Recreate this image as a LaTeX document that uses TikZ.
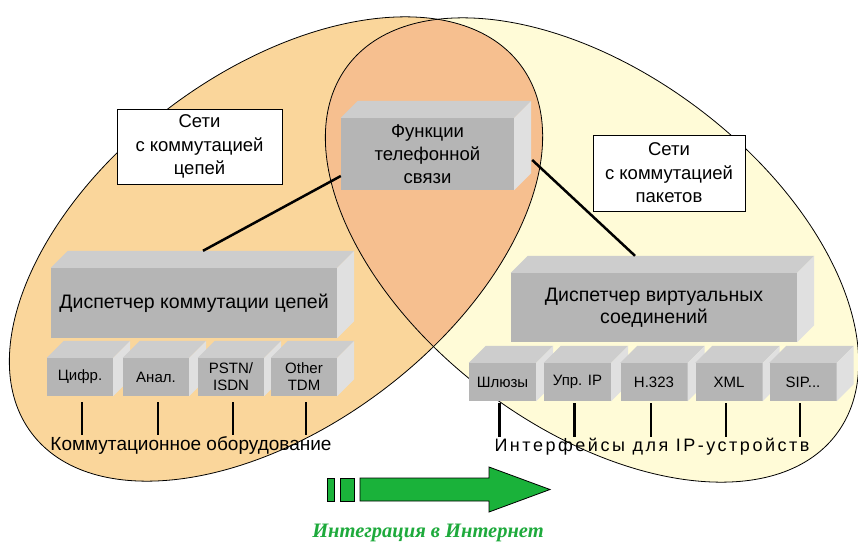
\documentclass[tikz,border=0pt]{standalone}
\usepackage{fontspec}
\setmainfont{Liberation Sans}
\newfontfamily\captionserif{Liberation Serif}
\usetikzlibrary{calc}

\definecolor{circuitfill}{RGB}{250,214,155}
\definecolor{packetfill}{RGB}{255,251,215}
\definecolor{commonfill}{RGB}{246,191,143}
\definecolor{boxfront}{RGB}{181,181,181}
\definecolor{boxtop}{RGB}{205,205,205}
\definecolor{boxside}{RGB}{224,224,224}
\definecolor{arrowgreen}{RGB}{26,178,58}
\definecolor{textgreen}{RGB}{30,170,60}

\tikzset{
  front/.style={fill=boxfront, inner sep=0pt, align=center, text=black},
  bigtxt/.style={font=\fontsize{18.5}{23}\selectfont},
  maintxt/.style={font=\fontsize{19.5}{22}\selectfont},
  smalltxt/.style={font=\fontsize{15}{17}\selectfont},
  netlabel/.style={draw=black, line width=0.9pt, fill=white, align=center,
    inner sep=0pt, font=\fontsize{18.5}{23.5}\selectfont},
  link/.style={line width=2.5pt, black},
  tick/.style={line width=2.5pt, black},
  outline/.style={draw=black, line width=0.8pt},
}

% #1 name, #2 centre of front face, #3 width, #4 height, #5 depth, #6 style, #7 text
\newcommand\cubebox[7]{%
  \node[front, minimum width=#3pt, minimum height=#4pt, #6] (#1) at (#2) {#7};
  \fill[boxtop] (#1.north west) -- ([shift={(#5pt,#5pt)}]#1.north west)
    -- ([shift={(#5pt,#5pt)}]#1.north east) -- (#1.north east) -- cycle;
  \fill[boxside] (#1.north east) -- ([shift={(#5pt,#5pt)}]#1.north east)
    -- ([shift={(#5pt,#5pt)}]#1.south east) -- (#1.south east) -- cycle;
}

\begin{document}
\begin{tikzpicture}[x=1pt, y=-1pt]
\useasboundingbox (0,0) rectangle (858,543);
\fill[white] (0,0) rectangle (858,543);
\clip (0,0) rectangle (858,543);

% the two networks and their common part
\fill[circuitfill, rotate around={37:(276,249)}] (276,249) ellipse [x radius=306pt, y radius=177pt];
\fill[packetfill, rotate around={-37:(592,250)}] (592,250) ellipse [x radius=306pt, y radius=177pt];
\begin{scope}
  \clip[rotate around={37:(276,249)}] (276,249) ellipse [x radius=306pt, y radius=177pt];
  \fill[commonfill, rotate around={-37:(592,250)}] (592,250) ellipse [x radius=306pt, y radius=177pt];
\end{scope}
\draw[outline, rotate around={37:(276,249)}] (276,249) ellipse [x radius=306pt, y radius=177pt];
\draw[outline, rotate around={-37:(592,250)}] (592,250) ellipse [x radius=306pt, y radius=177pt];

% network captions
\node[netlabel, minimum width=165pt, minimum height=75pt] (capc) at (199.5,146.5)
  {Сети\\с коммутацией\\цепей};
\node[netlabel, minimum width=152pt, minimum height=76pt] (capp) at (669,173)
  {Сети\\с коммутацией\\пакетов};

% telephony functions
\cubebox{fn}{427.5,154}{173}{72}{17}{bigtxt}{Функции\\телефонной\\связи}

% circuit side
\cubebox{lm}{194,303}{286}{70}{17}{maintxt}{Диспетчер коммутации цепей}
\cubebox{c1}{80,377}{66}{38}{17}{smalltxt}{Цифр.}
\cubebox{c2}{156,377}{66}{38}{17}{smalltxt}{Анал.}
\cubebox{c3}{231,377}{66}{38}{17}{smalltxt}{PSTN/\\ISDN}
\cubebox{c4}{304,377}{66}{38}{17}{smalltxt}{Other\\TDM}

% packet side
\cubebox{rm}{654,307.5}{286}{69}{17}{maintxt}{Диспетчер виртуальных\\соединений}
\cubebox{p1}{502.5,382}{67}{38}{17}{smalltxt}{Шлюзы}
\cubebox{p2}{577.5,382}{67}{38}{17}{smalltxt}{Упр. IP}
\cubebox{p3}{654,382}{67}{38}{17}{smalltxt}{H.323}
\cubebox{p4}{729,382}{67}{38}{17}{smalltxt}{XML}
\cubebox{p5}{803,382}{67}{38}{17}{smalltxt}{SIP...}

% links from the telephony functions
\draw[link] ([yshift=-22pt]fn.west) -- ([xshift=9pt, yshift=17pt]lm.north);
\draw[link] ([xshift=18pt, yshift=-6pt]fn.east) -- ([xshift=-19pt, yshift=17pt]rm.north);

% equipment ticks
\foreach \b in {c1,c2,c3,c4}
  \draw[tick] ([xshift=2pt, yshift=-6pt]\b.south) -- ([xshift=2pt, yshift=-39pt]\b.south);
\foreach \b in {p1,p2,p3,p4,p5}
  \draw[tick] ([xshift=-3pt, yshift=-2pt]\b.south) -- ([xshift=-3pt, yshift=-36pt]\b.south);

\node[font=\fontsize{19}{23}\selectfont, inner sep=0pt] (eqc) at (191,445) {Коммутационное оборудование};
\node[font=\fontsize{18}{23}\selectfont\addfontfeatures{LetterSpace=14}, inner sep=0pt] (eqp) at (652,447) {Интерфейсы для IP-устройств};

% integration arrow
\filldraw[fill=arrowgreen, draw=black, line width=0.8pt] (327,478) rectangle (334,501);
\filldraw[fill=arrowgreen, draw=black, line width=0.8pt] (340,478) rectangle (354,501);
\filldraw[fill=arrowgreen, draw=black, line width=0.8pt]
  (360,478) -- (489,478) -- (489,467) -- (550,489.5) -- (489,512) -- (489,501) -- (360,501) -- cycle;
\node[font=\captionserif\bfseries\itshape\fontsize{20.5}{23}\selectfont, text=textgreen, inner sep=0pt] (integ) at (428,533)
  {Интеграция в Интернет};
\end{tikzpicture}
\end{document}
